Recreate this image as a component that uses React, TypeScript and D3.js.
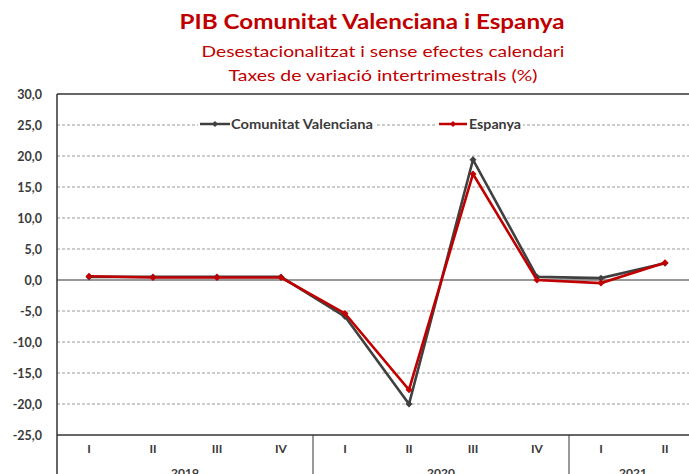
import React from "react";
import * as d3 from "d3";

const quarters = ["I", "II", "III", "IV", "I", "II", "III", "IV", "I", "II"];
const years = ["2019", "2020", "2021"];
const yearSpans = [4, 4, 2];
const cvValues = [0.5, 0.5, 0.5, 0.5, -5.9, -20.0, 19.4, 0.5, 0.3, 2.7];
const esValues = [0.6, 0.4, 0.4, 0.4, -5.4, -17.7, 17.1, 0.0, -0.5, 2.8];
const yTicks = [30, 25, 20, 15, 10, 5, 0, -5, -10, -15, -20, -25];
const seriesNames = ["Comunitat Valenciana", "Espanya"];
const titleText = "PIB Comunitat Valenciana i Espanya";
const subtitle1 = "Desestacionalitzat i sense efectes calendari";
const subtitle2 = "Taxes de variació intertrimestrals (%)";

const W = 689;
const H = 474;
const left = 57;
const right = 697;
const top = 94;
const bottom = 435;
const RED = "#C00000";
const GRAY = "#404040";
const FONT = "Lato, 'Open Sans', sans-serif";

export default function App() {
  const idx = quarters.map((_, i) => i);
  const x = d3.scaleBand<number>().domain(idx).range([left, right]);
  const y = d3.scaleLinear().domain([-25, 30]).range([bottom, top]);
  const cx = (i: number) => (x(i) as number) + x.bandwidth() / 2;
  const line = d3
    .line<number>()
    .x((_, i) => cx(i))
    .y((d) => y(d));
  const series = [
    { name: seriesNames[0], values: cvValues, color: GRAY },
    { name: seriesNames[1], values: esValues, color: RED },
  ];
  const diamond = (px: number, py: number, r: number) =>
    `M${px},${py - r}L${px + r},${py}L${px},${py + r}L${px - r},${py}Z`;

  const sepIdx: number[] = [];
  let acc = 0;
  yearSpans.forEach((s) => {
    sepIdx.push(acc);
    acc += s;
  });

  return (
    <svg
      width={W}
      height={H}
      style={{ position: "absolute", left: 0, top: 0, background: "#fff" }}
    >
      <rect x={0} y={0} width={W} height={H} fill="#fff" />
      <text
        x={372}
        y={29}
        textAnchor="middle"
        fill={RED}
        fontFamily={FONT}
        fontWeight="bold"
        fontSize={21}
        textLength={385}
        lengthAdjust="spacingAndGlyphs"
      >
        {titleText}
      </text>
      <text
        x={383}
        y={57}
        textAnchor="middle"
        fill={RED}
        fontFamily={FONT}
        fontSize={16}
        textLength={363}
        lengthAdjust="spacingAndGlyphs"
      >
        {subtitle1}
      </text>
      <text
        x={383}
        y={81}
        textAnchor="middle"
        fill={RED}
        fontFamily={FONT}
        fontSize={16}
        textLength={309}
        lengthAdjust="spacingAndGlyphs"
      >
        {subtitle2}
      </text>

      {yTicks
        .filter((t) => t !== 0 && t !== 30 && t !== -25)
        .map((t) => (
          <line
            key={t}
            x1={left}
            x2={right}
            y1={y(t)}
            y2={y(t)}
            stroke="#9a9a9a"
            strokeWidth={1}
            strokeDasharray="3,2"
          />
        ))}
      <line x1={left} x2={right} y1={y(30)} y2={y(30)} stroke="#333" strokeWidth={1.5} />
      <line x1={left} x2={right} y1={y(-25)} y2={y(-25)} stroke="#333" strokeWidth={1.5} />
      <line x1={left} x2={right} y1={y(0)} y2={y(0)} stroke="#333" strokeWidth={1.2} />
      <line x1={left} x2={left} y1={y(30)} y2={H} stroke="#333" strokeWidth={1.5} />
      {sepIdx.slice(1).map((si) => (
        <line
          key={si}
          x1={x(si) as number}
          x2={x(si) as number}
          y1={bottom}
          y2={H}
          stroke="#333"
          strokeWidth={1}
        />
      ))}

      {yTicks.map((t) => (
        <text
          key={t}
          x={42}
          y={y(t) + 4.5}
          textAnchor="end"
          fill="#3a3a3a"
          fontFamily={FONT}
          fontWeight="bold"
          fontSize={12.5}
        >
          {d3.format(".1f")(t).replace(".", ",").replace("−", "-")}
        </text>
      ))}

      {quarters.map((q, i) => (
        <text
          key={i}
          x={cx(i)}
          y={453}
          textAnchor="middle"
          fill="#3a3a3a"
          fontFamily={FONT}
          fontWeight="bold"
          fontSize={12}
        >
          {q}
        </text>
      ))}
      {years.map((yr, k) => {
        const s = sepIdx[k];
        const e = s + yearSpans[k] - 1;
        const mid = ((x(s) as number) + (x(e) as number) + x.bandwidth()) / 2;
        return (
          <text
            key={yr}
            x={mid}
            y={477}
            textAnchor="middle"
            fill="#3a3a3a"
            fontFamily={FONT}
            fontWeight="bold"
            fontSize={12}
          >
            {yr}
          </text>
        );
      })}

      <rect x={198} y={116} width={178} height={16} fill="#fff" />
      <rect x={437} y={116} width={86} height={16} fill="#fff" />
      <line x1={200} x2={230} y1={124} y2={124} stroke={GRAY} strokeWidth={2.5} />
      <path d={diamond(215, 124, 3)} fill={GRAY} />
      <text
        x={231}
        y={128.5}
        fill="#3a3a3a"
        fontFamily={FONT}
        fontWeight="bold"
        fontSize={12.5}
        textLength={142}
        lengthAdjust="spacingAndGlyphs"
      >
        {seriesNames[0]}
      </text>
      <line x1={439} x2={467} y1={124} y2={124} stroke={RED} strokeWidth={2.5} />
      <path d={diamond(453, 124, 3)} fill={RED} />
      <text
        x={469}
        y={128.5}
        fill="#3a3a3a"
        fontFamily={FONT}
        fontWeight="bold"
        fontSize={12.5}
        textLength={52}
        lengthAdjust="spacingAndGlyphs"
      >
        {seriesNames[1]}
      </text>

      {series.map((s) => (
        <g key={s.name}>
          <path
            d={line(s.values) || ""}
            fill="none"
            stroke={s.color}
            strokeWidth={2.6}
            strokeLinejoin="miter"
          />
          {s.values.map((v, i) => (
            <path key={i} d={diamond(cx(i), y(v), 3.5)} fill={s.color} />
          ))}
        </g>
      ))}
    </svg>
  );
}
